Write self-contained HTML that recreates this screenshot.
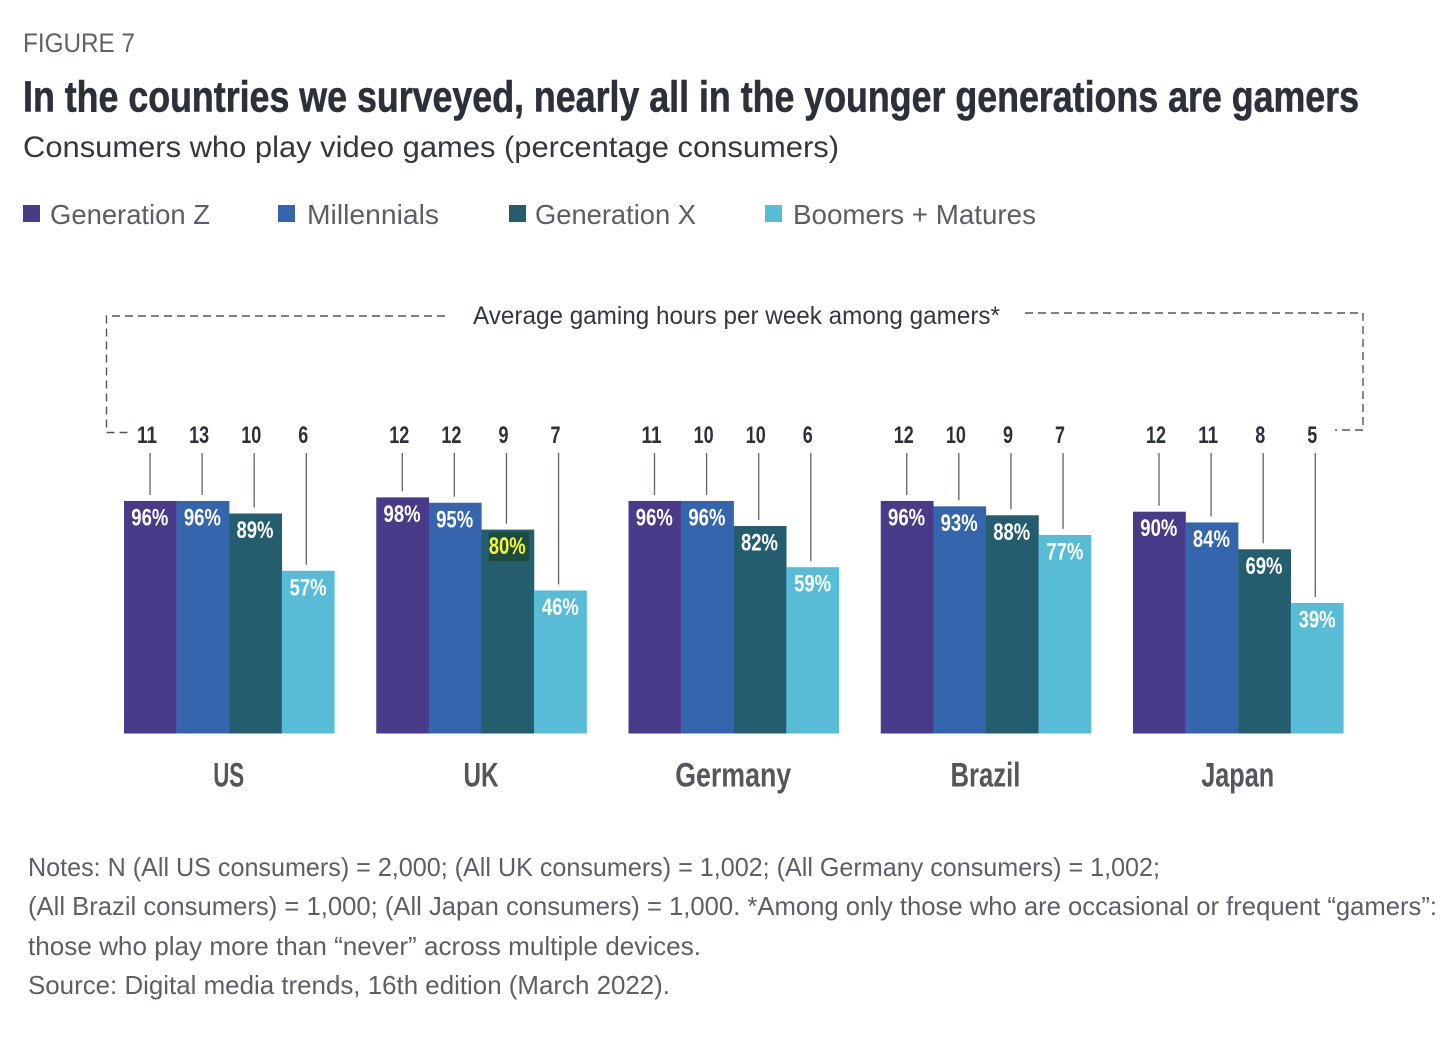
<!DOCTYPE html>
<html lang="en">
<head>
<meta charset="utf-8">
<title>Figure 7</title>
<style>
html,body{margin:0;padding:0;background:#fff;width:1456px;height:1038px;overflow:hidden}
svg{display:block;font-family:"Liberation Sans",sans-serif}
</style>
</head>
<body>
<svg id="chart" width="1456" height="1038" viewBox="0 0 1456 1038" xmlns="http://www.w3.org/2000/svg">
  <rect width="1456" height="1038" fill="#ffffff"/>
  <text x="23" y="52" font-size="27" fill="#5f6368" textLength="112" lengthAdjust="spacingAndGlyphs">FIGURE 7</text>
  <text x="23" y="111.500" font-size="44" font-weight="700" fill="#2c3039" stroke="#2c3039" stroke-width="0.600" textLength="1336" lengthAdjust="spacingAndGlyphs">In the countries we surveyed, nearly all in the younger generations are gamers</text>
  <text x="23" y="157" font-size="30" fill="#33373f" textLength="816" lengthAdjust="spacingAndGlyphs">Consumers who play video games (percentage consumers)</text>

  <g>
    <g>
      <rect x="23" y="205" width="17" height="17" fill="#4a3a8a"/>
      <text x="50" y="224" font-size="28" fill="#5a5e66" textLength="160" lengthAdjust="spacingAndGlyphs">Generation Z</text>
    </g>
    <g>
      <rect x="278" y="205" width="17" height="17" fill="#3566ad"/>
      <text x="307" y="224" font-size="28" fill="#5a5e66" textLength="132" lengthAdjust="spacingAndGlyphs">Millennials</text>
    </g>
    <g>
      <rect x="509" y="205" width="17" height="17" fill="#245d6e"/>
      <text x="535" y="224" font-size="28" fill="#5a5e66" textLength="161" lengthAdjust="spacingAndGlyphs">Generation X</text>
    </g>
    <g>
      <rect x="765" y="205" width="17" height="17" fill="#59bcd6"/>
      <text x="793" y="224" font-size="28" fill="#5a5e66" textLength="243" lengthAdjust="spacingAndGlyphs">Boomers + Matures</text>
    </g>
  </g>

  <path d="M445 316H106.500V432.500H131" fill="none" stroke="#555" stroke-width="1.400" stroke-dasharray="8 5"/>
  <path d="M1025 313H1363V430H1335" fill="none" stroke="#555" stroke-width="1.400" stroke-dasharray="8 5"/>
  <text x="473" y="324" font-size="25" fill="#33373f" textLength="527" lengthAdjust="spacingAndGlyphs">Average gaming hours per week among gamers*</text>

  <g id="marks"></g>

  <g font-size="26" fill="#5c6066">
    <text x="28" y="876" textLength="1132" lengthAdjust="spacingAndGlyphs">Notes: N (All US consumers) = 2,000; (All UK consumers) = 1,002; (All Germany consumers) = 1,002;</text>
    <text x="28" y="915" textLength="1409" lengthAdjust="spacingAndGlyphs">(All Brazil consumers) = 1,000; (All Japan consumers) = 1,000. *Among only those who are occasional or frequent “gamers”:</text>
    <text x="28" y="955" textLength="673" lengthAdjust="spacingAndGlyphs">those who play more than “never” across multiple devices.</text>
    <text x="28" y="994" textLength="642" lengthAdjust="spacingAndGlyphs">Source: Digital media trends, 16th edition (March 2022).</text>
  </g>
</svg>
<script>
const countries = ['US', 'UK', 'Germany', 'Brazil', 'Japan'];
const seriesNames = ['generation-z', 'millennials', 'generation-x', 'boomers-matures'];
const generationZ = [96, 98, 96, 96, 90];
const millennials = [96, 95, 96, 93, 84];
const generationX = [89, 80, 82, 88, 69];
const boomersMatures = [57, 46, 59, 77, 39];
const hoursGenerationZ = [11, 12, 11, 12, 12];
const hoursMillennials = [13, 12, 10, 10, 11];
const hoursGenerationX = [10, 9, 10, 9, 8];
const hoursBoomersMatures = [6, 7, 6, 7, 5];
const highlightedCountry = 'UK';
const highlightedSeries = 'generation-x';

const percentSeries = [generationZ, millennials, generationX, boomersMatures];
const hoursSeries = [hoursGenerationZ, hoursMillennials, hoursGenerationX, hoursBoomersMatures];
const colors = ['#4a3a8a', '#3566ad', '#245d6e', '#59bcd6'];
const NS = 'http://www.w3.org/2000/svg';
const marks = document.getElementById('marks');

const baselineY = 733.5;
const barWidth = 52.6;
function groupX(c) { return 124 + c * 252.25; }
function barX(c, s) { return groupX(c) + s * barWidth; }
function valueY(v) { return 672.8 - 1.79 * v; }

function make(tag, attrs, text) {
  const el = document.createElementNS(NS, tag);
  for (const k in attrs) el.setAttribute(k, attrs[k]);
  if (text !== undefined) el.textContent = text;
  marks.appendChild(el);
  return el;
}

countries.forEach(function (country, c) {
  const slug = country.toLowerCase();
  seriesNames.forEach(function (name, s) {
    const v = percentSeries[s][c];
    const hrs = hoursSeries[s][c];
    const top = valueY(v);
    const x = barX(c, s);
    const cx = x + barWidth / 2;
    const lineX = groupX(c) + 26 + 52.1 * s;

    const bar = make('rect', { x: x, y: top, width: barWidth + 0.2, height: baselineY - top, fill: colors[s] });
    
    

    const leader = make('line', { x1: lineX, x2: lineX, y1: 453, y2: top - 6, stroke: '#5f6368', 'stroke-width': 1.3 });
    
    

    const hourLabel = make('text', {
      x: lineX - 3, y: 443, 'font-size': 24, 'font-weight': 700, fill: '#2c3039',
      'text-anchor': 'middle', textLength: String(hrs).length > 1 ? 20 : 10, lengthAdjust: 'spacingAndGlyphs'
    }, String(hrs));
    
    

    const highlighted = country === highlightedCountry && name === highlightedSeries;
    if (highlighted) {
      const hl = make('rect', { x: cx - 19, y: top + 2.5, width: 40, height: 29, fill: '#1c4a3c' });
      
      
    }

    const valueLabel = make('text', {
      x: cx - 0.5 + (s === 3 ? 0.5 : 0), y: top + 24.5, 'font-size': 24, 'font-weight': 700,
      fill: highlighted ? '#f4f53a' : '#ffffff', 'text-anchor': 'middle',
      textLength: 37, lengthAdjust: 'spacingAndGlyphs'
    }, v + '%');
    
    
  });

  const widths = { US: 31, UK: 35, Germany: 116, Brazil: 70, Japan: 73 };
  const catLabel = make('text', {
    x: groupX(c) + 2 * barWidth - 0.5, y: 786.5, 'font-size': 34, 'font-weight': 700, fill: '#53575d',
    'text-anchor': 'middle', textLength: widths[country], lengthAdjust: 'spacingAndGlyphs'
  }, country);
  
  
});
</script>
</body>
</html>
